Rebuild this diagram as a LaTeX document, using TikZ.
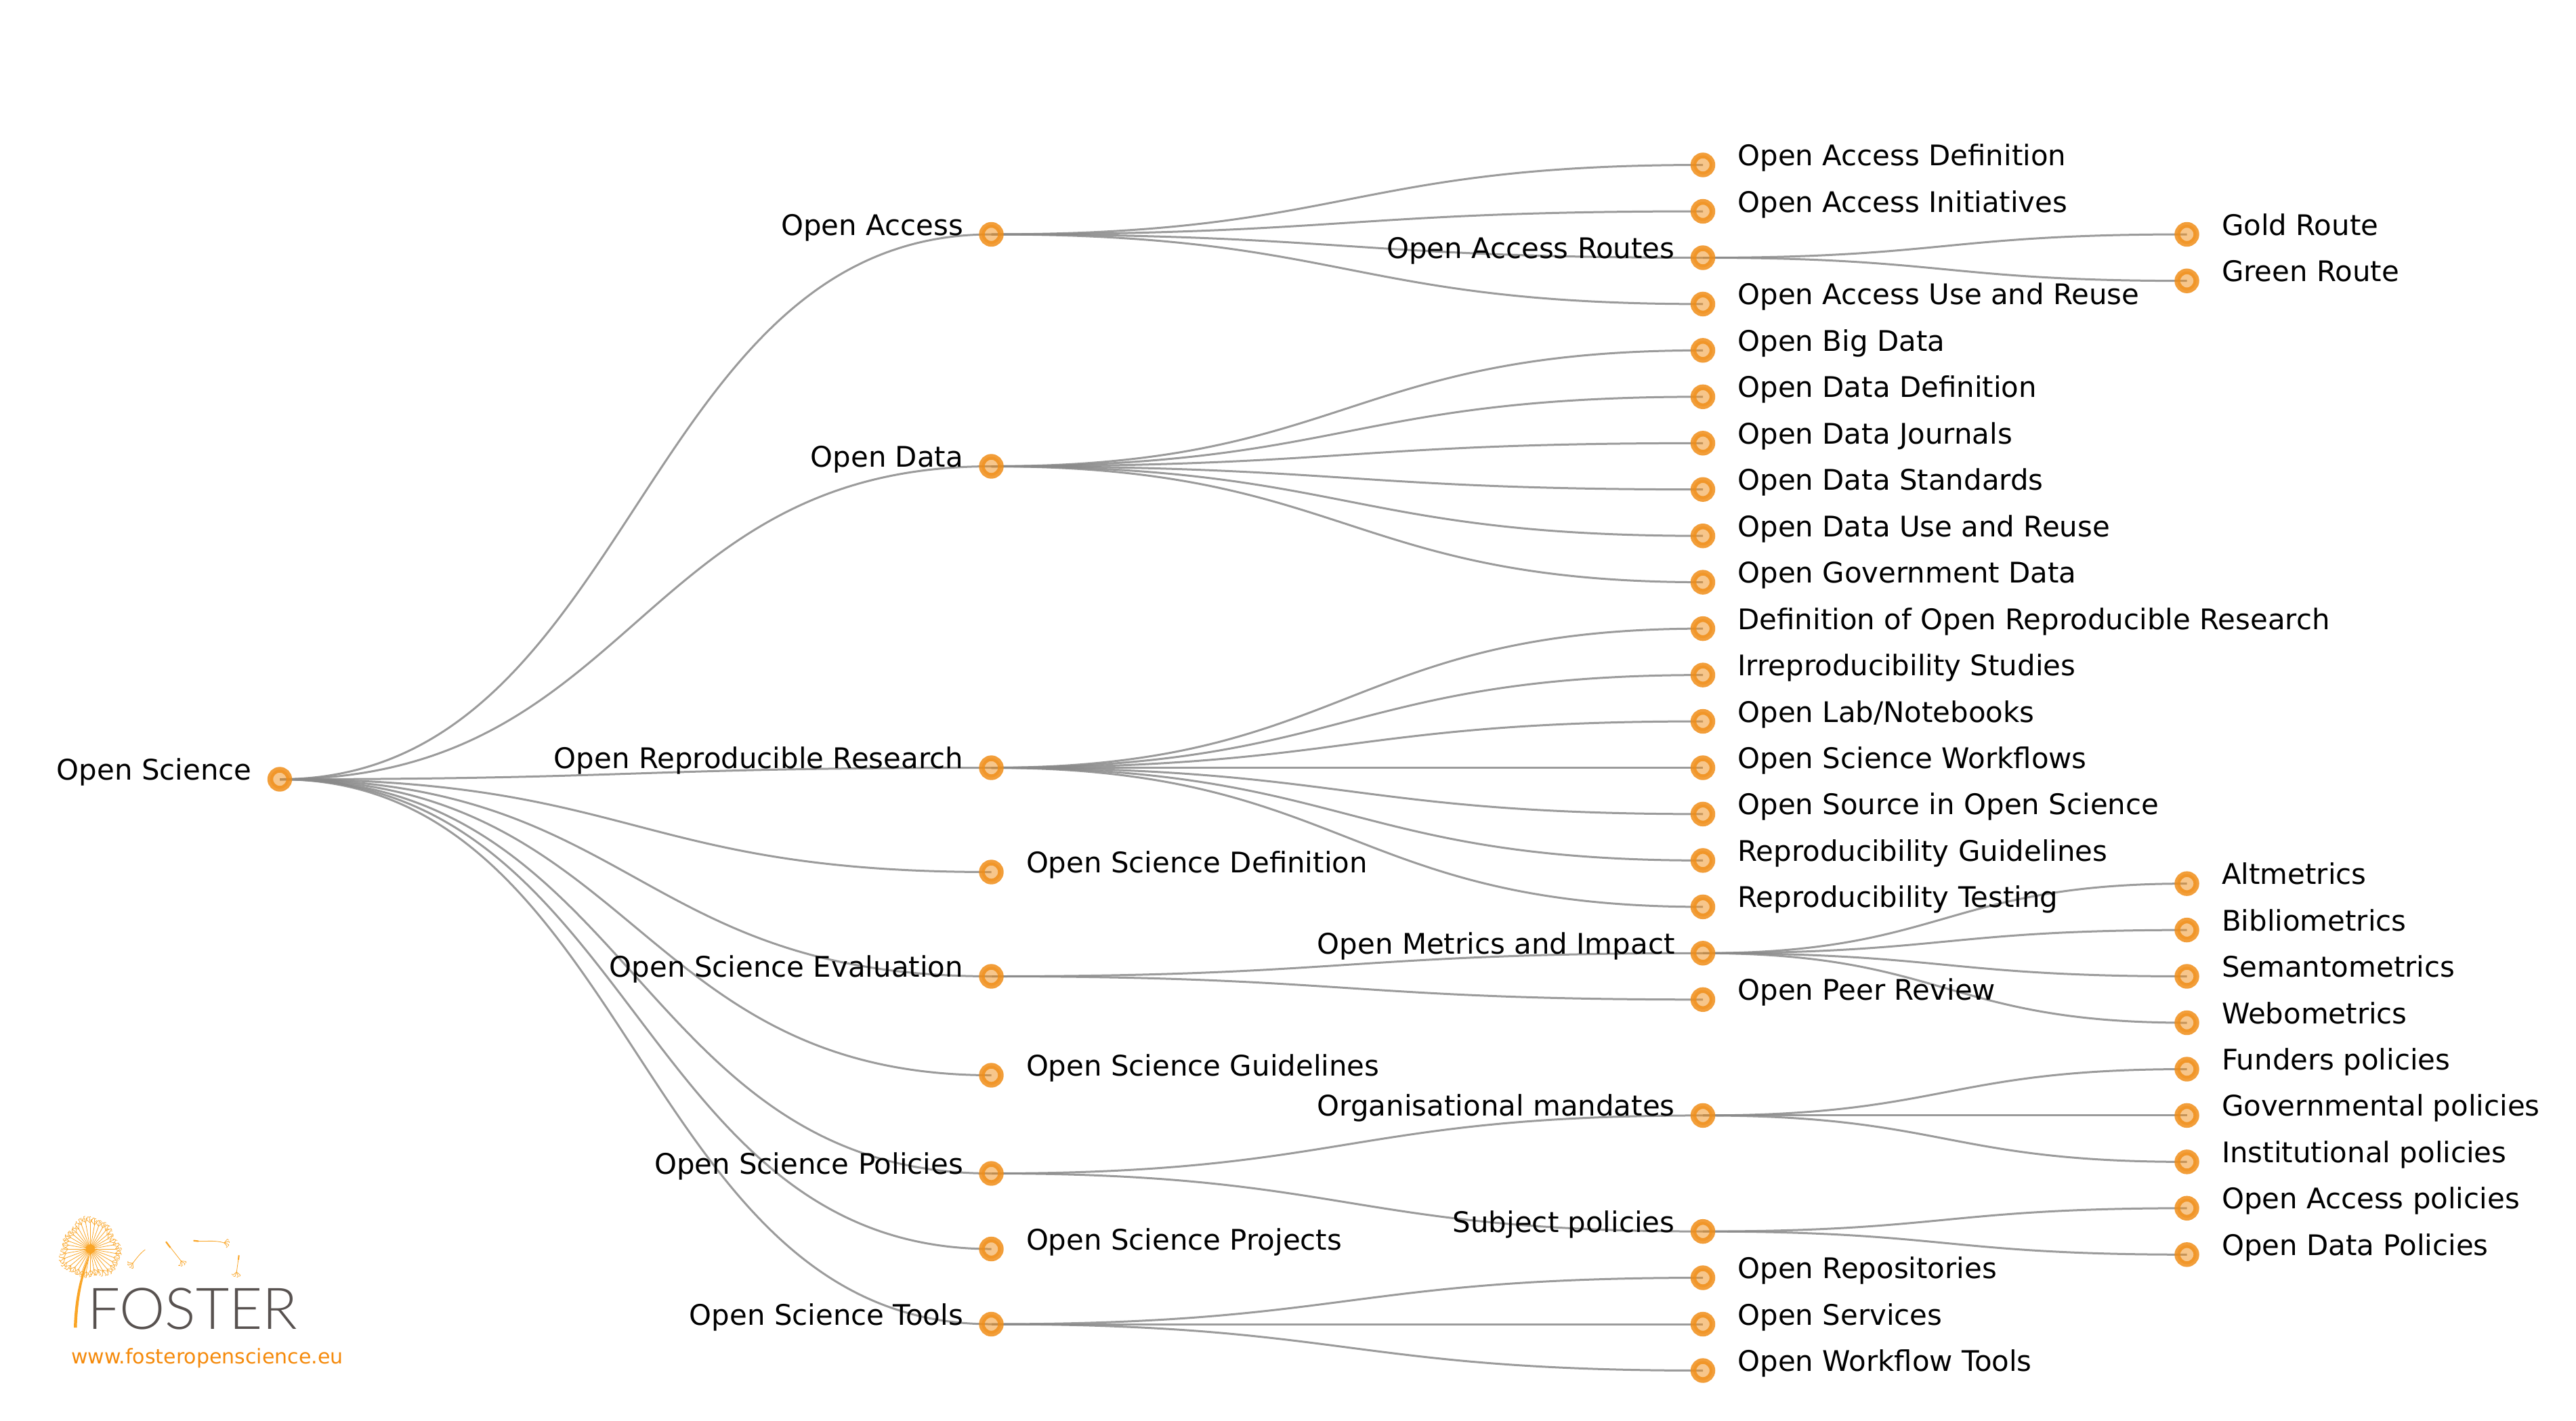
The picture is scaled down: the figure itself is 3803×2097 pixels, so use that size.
\documentclass[tikz,border=0pt]{standalone}
\usepackage{fontspec}
\setmainfont{DejaVu Sans}
\newfontfamily\fosterfont{Lato Light}
\usetikzlibrary{calc}
\pgfdeclarelayer{linklayer}
\pgfsetlayers{linklayer,main}
\definecolor{nodeorange}{HTML}{F08E18}
\definecolor{linkgrey}{HTML}{8A8A8A}
\definecolor{seedorange}{HTML}{FAA526}
\definecolor{urlorange}{HTML}{F58A0B}
\definecolor{fostergrey}{HTML}{585250}
\tikzset{
  dot/.style={circle,inner sep=0pt,outer sep=0pt,minimum size=28pt,line width=8.4pt,
    draw=nodeorange,draw opacity=.85,fill=nodeorange,fill opacity=.5},
  lbl/.style={inner sep=0pt,outer sep=0pt,text=black,font=\fontsize{41.9}{50}\selectfont},
  lnk/.style={draw=linkgrey,line width=3pt,draw opacity=.85},
  seedline/.style={draw=seedorange,line width=.8pt},
  seedfine/.style={draw=seedorange,line width=.7pt},
}
\newcommand{\nodeL}[4]{\node[dot] (#1) at (#2,#3) {}; \node[lbl,anchor=base east] (#1l) at (#2-41.5,#3+1) {#4};}
\newcommand{\nodeR}[4]{\node[dot] (#1) at (#2,#3) {}; \node[lbl,anchor=base west] (#1l) at (#2+51.5,#3+1) {#4};}
\newcommand{\seedtuft}[3]{%
  \foreach \b in {-50,-20,20,50}{
    \draw[seedfine] (#1,#2) -- ++(#3+\b:7) arc[start angle=#3+\b-50,end angle=#3+\b+50,radius=1.5];
  }}
\begin{document}
\begin{tikzpicture}[x=1pt,y=-1pt]
\useasboundingbox (0,0) rectangle (3803,2097);
\begin{pgfonlayer}{linklayer}
\fill[white] (0,0) rectangle (3803,2097);
\end{pgfonlayer}

% root
\nodeL{root}{413}{1150.5}{Open Science}
% level 1
\nodeL{oa}{1463.5}{346}{Open Access}
\nodeL{od}{1463.5}{688.5}{Open Data}
\nodeL{orr}{1463.5}{1133.5}{Open Reproducible Research}
\nodeR{osd}{1463.5}{1287.5}{Open Science Definition}
\nodeL{ose}{1463.5}{1441.5}{Open Science Evaluation}
\nodeR{osg}{1463.5}{1587.5}{Open Science Guidelines}
\nodeL{osp}{1463.5}{1732.5}{Open Science Policies}
\nodeR{ospr}{1463.5}{1844}{Open Science Projects}
\nodeL{ost}{1463.5}{1955}{Open Science Tools}
% level 2
\nodeR{oadef}{2514}{243.5}{Open Access Definition}
\nodeR{oaini}{2514}{312}{Open Access Initiatives}
\nodeL{oarou}{2514}{380.5}{Open Access Routes}
\nodeR{oause}{2514}{448.9}{Open Access Use and Reuse}
\nodeR{odbig}{2514}{517.3}{Open Big Data}
\nodeR{oddef}{2514}{585.8}{Open Data Definition}
\nodeR{odjou}{2514}{654.3}{Open Data Journals}
\nodeR{odsta}{2514}{722.7}{Open Data Standards}
\nodeR{oduse}{2514}{791.2}{Open Data Use and Reuse}
\nodeR{odgov}{2514}{859.6}{Open Government Data}
\nodeR{rrdef}{2514}{928.1}{Definition of Open Reproducible Research}
\nodeR{rrirr}{2514}{996.6}{Irreproducibility Studies}
\nodeR{rrlab}{2514}{1065}{Open Lab/Notebooks}
\nodeR{rrwor}{2514}{1133.5}{Open Science Workflows}
\nodeR{rrsrc}{2514}{1201.9}{Open Source in Open Science}
\nodeR{rrgui}{2514}{1270.4}{Reproducibility Guidelines}
\nodeR{rrtes}{2514}{1338.9}{Reproducibility Testing}
\nodeL{evmet}{2514}{1407.3}{Open Metrics and Impact}
\nodeR{evpee}{2514}{1475.8}{Open Peer Review}
\nodeL{pomad}{2514}{1646.9}{Organisational mandates}
\nodeL{posub}{2514}{1818.1}{Subject policies}
\nodeR{torep}{2514}{1886.5}{Open Repositories}
\nodeR{toser}{2514}{1955}{Open Services}
\nodeR{towor}{2514}{2023.5}{Open Workflow Tools}
% level 3
\nodeR{gold}{3228.5}{346}{Gold Route}
\nodeR{green}{3228.5}{414.7}{Green Route}
\nodeR{alt}{3228.5}{1304.6}{Altmetrics}
\nodeR{bib}{3228.5}{1373.1}{Bibliometrics}
\nodeR{sem}{3228.5}{1441.5}{Semantometrics}
\nodeR{web}{3228.5}{1510}{Webometrics}
\nodeR{fun}{3228.5}{1578.5}{Funders policies}
\nodeR{gov}{3228.5}{1646.9}{Governmental policies}
\nodeR{ins}{3228.5}{1715.4}{Institutional policies}
\nodeR{oap}{3228.5}{1783.8}{Open Access policies}
\nodeR{odp}{3228.5}{1852.3}{Open Data Policies}

\begin{pgfonlayer}{linklayer}
\foreach \s/\t in {root/oa,root/od,root/orr,root/osd,root/ose,root/osg,root/osp,root/ospr,root/ost,
  oa/oadef,oa/oaini,oa/oarou,oa/oause,
  od/odbig,od/oddef,od/odjou,od/odsta,od/oduse,od/odgov,
  orr/rrdef,orr/rrirr,orr/rrlab,orr/rrwor,orr/rrsrc,orr/rrgui,orr/rrtes,
  ose/evmet,ose/evpee,osp/pomad,osp/posub,ost/torep,ost/toser,ost/towor,
  oarou/gold,oarou/green,evmet/alt,evmet/bib,evmet/sem,evmet/web,
  pomad/fun,pomad/gov,pomad/ins,posub/oap,posub/odp}{
  \coordinate (mid) at ($(\s.center)!.5!(\t.center)$);
  \draw[lnk] (\s.center) .. controls (mid |- \s.center) and (mid |- \t.center) .. (\t.center);
}
\end{pgfonlayer}

% logo: dandelion head
\foreach \a in {0,10,...,350}{
  \pgfmathsetmacro\rr{35+3.5*sin(3*\a)+2*cos(7*\a)}
  \draw[seedline] (133.3,1844) -- ++(\a:\rr) coordinate (tip);
  \foreach \b in {-50,-10,30}{
    \draw[seedfine] (tip) -- ++(\a+\b:8.5) arc[start angle=\a+\b-60,end angle=\a+\b+60,radius=1.3];
  }
}
\fill[seedorange] (133.3,1844) circle[radius=6.8];
% stem
\fill[seedorange] (134,1846) .. controls (124,1872) and (111,1900) .. (109,1960)
  -- (113.5,1960) .. controls (115,1905) and (126,1875) .. (134.5,1846) -- cycle;
% loose seeds
\draw[seedline] (214.3,1845) .. controls (206,1851) and (200,1860) .. (196,1865);
\seedtuft{196}{1865}{135}
\draw[seedline] (245,1833.3) -- (267.3,1861.7);
\draw[seedorange,line width=2.2pt] (245,1833.3) -- (251.5,1842);
\seedtuft{267.3}{1861.7}{55}
\draw[seedline] (285.7,1831.7) .. controls (303,1834) and (315,1830) .. (331,1835);
\draw[seedorange,line width=2.2pt] (285.7,1831.7) -- (293,1832.5);
\seedtuft{331}{1835}{0}
\draw[seedline] (352.7,1853.3) -- (349.3,1878);
\draw[seedorange,line width=2pt] (352.7,1853.3) -- (352,1860);
\seedtuft{349.3}{1878}{90}
% logo texts
\node[inner sep=0pt,outer sep=0pt,anchor=base west,text=fostergrey,font=\fosterfont\fontsize{85}{90}\selectfont] (fosterword) at (129,1962) {FOSTER};
\node[inner sep=0pt,outer sep=0pt,anchor=base west,text=urlorange,font=\fontsize{30}{34}\selectfont] (fosterurl) at (105,2013) {www.fosteropenscience.eu};
\end{tikzpicture}
\end{document}
